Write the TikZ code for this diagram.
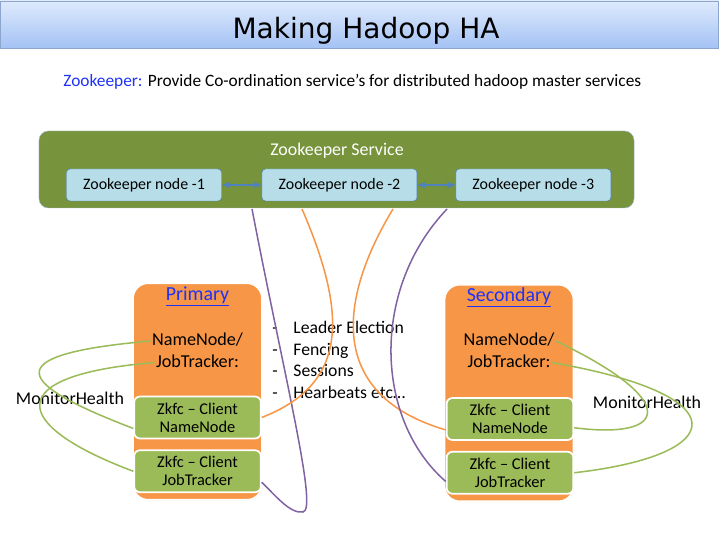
\documentclass[tikz,border=0pt]{standalone}
\usepackage{fontspec}
\setmainfont{Carlito}
\newfontfamily\titlefont{DejaVu Sans}
\usepackage{tikz}
\usetikzlibrary{arrows.meta, positioning, calc, shadows}
\definecolor{titletop}{RGB}{222,234,252}
\definecolor{titlebot}{RGB}{164,194,244}
\definecolor{titleline}{RGB}{140,165,205}
\definecolor{linkblue}{RGB}{30,50,250}
\definecolor{svcgreen}{RGB}{119,147,60}
\definecolor{svcline}{RGB}{160,185,225}
\definecolor{zkfill}{RGB}{183,222,232}
\definecolor{zkline}{RGB}{79,129,189}
\definecolor{hostorange}{RGB}{247,150,70}
\definecolor{zkfcgreen}{RGB}{155,187,89}
\definecolor{wirepurple}{RGB}{128,100,162}

\begin{document}
\begin{tikzpicture}[
    x=0.03cm, y=-0.03cm,
    node distance=0.3cm,
    zknode/.style={rectangle, draw=zkline, fill=zkfill, rounded corners=3pt, minimum width=4.65cm, minimum height=0.96cm, font=\fontsize{13.6}{16}\selectfont},
    hostbox/.style={rectangle, draw=white, line width=1.5pt, fill=hostorange, rounded corners=13pt, minimum width=3.87cm, minimum height=6.5cm, drop shadow={opacity=0.2, shadow xshift=0.6pt, shadow yshift=-0.6pt}},
    zkfc/.style={rectangle, draw=white, line width=1.5pt, fill=zkfcgreen, rounded corners=5pt, minimum width=3.8cm, minimum height=1.26cm, align=center, font=\fontsize{14}{15.5}\selectfont},
    txt/.style={inner sep=1pt, font=\fontsize{15.3}{18}\selectfont},
    hosttxt/.style={inner sep=1pt, text height=12pt, text depth=4pt, font=\fontsize{15.5}{18}\selectfont},
    wire/.style={line width=1.3pt, #1}
]
\useasboundingbox (0,0) rectangle (720,540);

% title bar
\node[rectangle, draw=titleline, top color=titletop, bottom color=titlebot, minimum width=21.55cm, minimum height=1.41cm, drop shadow={opacity=0.25, shadow xshift=0pt, shadow yshift=-1pt}] (titlebar) at (359.5,24.5) {};
\node[font=\titlefont\fontsize{23.9}{28}\selectfont] (title) at (366,31) {Making Hadoop HA};
\node[txt, anchor=west, font=\fontsize{14.8}{18}\selectfont] (intro) at (62,82) {\textcolor{linkblue}{Zookeeper:} Provide Co-ordination service’s for distributed hadoop master services};

% zookeeper ensemble
\node[rectangle, draw=svcline, fill=svcgreen, rounded corners=8pt, minimum width=17.85cm, minimum height=2.31cm] (zksvc) at (336.5,169.5) {};
\node[txt, text=white] (svclabel) at (337,151) {Zookeeper Service};
\node[zknode] (zk1) at (144,185) {Zookeeper node -1};
\node[zknode, right=1.2cm of zk1] (zk2) {Zookeeper node -2};
\node[zknode, right=1.15cm of zk2] (zk3) {Zookeeper node -3};
\draw[{Stealth}-{Stealth}, zkline, line width=1pt] (zk1) -- (zk2);
\draw[{Stealth}-{Stealth}, zkline, line width=1pt] (zk2) -- (zk3);

% primary master
\node[hostbox] (prim) at (197.5,391.5) {};
\node[txt, text=linkblue, font=\fontsize{17}{20}\selectfont] (primlabel) at (197.5,296) {\underline{Primary}};
\node[hosttxt] (nn1) at (197.5,341) {NameNode/};
\node[hosttxt, below=0pt of nn1] (jt1) {JobTracker:};
\node[zkfc] (zknn1) at (197.5,417.5) {Zkfc -- Client\\NameNode};
\node[zkfc, below=0.3cm of zknn1] (zkjt1) {Zkfc -- Client\\JobTracker};

% secondary master
\node[hostbox] (sec) at (509,393) {};
\node[txt, text=linkblue, font=\fontsize{17}{20}\selectfont] (seclabel) at (509,297) {\underline{Secondary}};
\node[hosttxt] (nn2) at (509,341) {NameNode/};
\node[hosttxt, below=0pt of nn2] (jt2) {JobTracker:};
\node[zkfc] (zknn2) at (510,419) {Zkfc -- Client\\NameNode};
\node[zkfc, below=0.3cm of zknn2] (zkjt2) {Zkfc -- Client\\JobTracker};

% what zookeeper gives
\node[txt, anchor=west, align=left, font=\fontsize{15.1}{18.3}\selectfont] (duties) at (271,360)
  {\makebox[0.63cm][l]{-}Leader Election\\\makebox[0.63cm][l]{-}Fencing\\\makebox[0.63cm][l]{-}Sessions\\\makebox[0.63cm][l]{-}Hearbeats etc…};
\node[txt] (mh1) at (70,398) {MonitorHealth};
\node[txt] (mh2) at (647,402) {MonitorHealth};

% sessions to the ensemble
\coordinate (pu1) at (252,209);
\coordinate (or1) at (302,209);
\coordinate (or2) at (393,209);
\coordinate (pu2) at (447,209);
\draw[wire=wirepurple] (pu1) .. controls (285,380) and (318,510) .. (303,512) .. controls (290,514) and (275,495) .. ($(zkjt1.east)!0.5!(zkjt1.south east)$);
\draw[wire=hostorange] (or1) .. controls (350,320) and (345,385) .. (zknn1.east);
\draw[wire=hostorange] (or2) .. controls (338,300) and (327,395) .. ($(zknn2.west)!0.5!(zknn2.south west)$);
\draw[wire=wirepurple] (pu2) .. controls (370,290) and (375,420) .. ($(zkjt2.west)!0.4!(zkjt2.south west)$);

% health checks
\draw[wire=zkfcgreen] (nn1.west) .. controls (-10,355) and (20,385) .. ($(zknn1.west)!0.5!(zknn1.south west)$);
\draw[wire=zkfcgreen] (jt1.west) .. controls (0,375) and (10,425) .. (zkjt1.west);
\draw[wire=zkfcgreen] (nn2.east) .. controls (680,400) and (670,440) .. ($(zknn2.east)!0.4!(zknn2.south east)$);
\draw[wire=zkfcgreen] (jt2.east) .. controls (740,395) and (730,455) .. (zkjt2.east);
\end{tikzpicture}
\end{document}
